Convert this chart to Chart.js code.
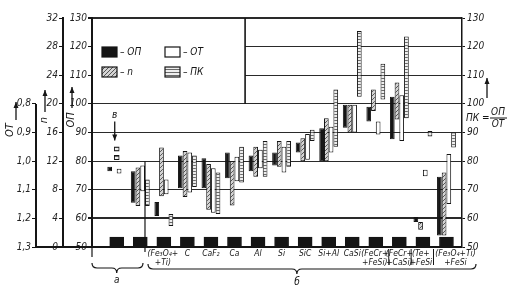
<!DOCTYPE html>
<html>
<head>
<meta charset="utf-8">
<script src="https://cdn.jsdelivr.net/npm/chart.js@4.4.1/dist/chart.umd.min.js"></script>
<style>
  html, body { margin: 0; padding: 0; background: #fff; }
</style>
</head>
<body>
<canvas id="chart" width="514" height="290"></canvas>
<script>
// categories along the bottom (two in group "а", the rest in group "б")
const categories = ['а1', 'а2', '(Fe3O4+Ti)', 'C', 'CaF2', 'Ca', 'Al', 'Si', 'SiC', 'Si+Al', 'CaSi',
    '(FeCr+FeSi)', '(FeCr+CaSi)', '(Te+FeSi)', '(Fe3O4+Ti)+FeSi'];
const catLabels = [[], [], ['(Fe₃O₄+', '+Ti)'], ['C'], ['CaF₂'], ['Ca'], ['Al'], ['Si'], ['SiC'], ['Si+Al'],
    ['CaSi'], ['(FeCr+', '+FeSi)'], ['(FeCr+', '+CaSi)'], ['(Te+', '+FeSi'], ['(Fe₃O₄+Ti)', '+FeSi']];

// ranges on the ОП / ПК scale (50..130)
const opRange = [[76.5, 78], [65.5, 76.5], [60.8, 65.7], [70.5, 82], [70.5, 81], [74, 83], [76.5, 82],
    [78.5, 83], [83, 86.5], [80, 91.5], [91.7, 99.7], [93.8, 99], [87.6, 102.5], [58.7, 60.5], [54, 74.5]];
const nRange = [null, [64.3, 77.8], [67.7, 84.8], [67.5, 83.5], [63, 79], [64.5, 80], [74.5, 85],
    [78, 87], [80, 88], [80, 95], [90, 99.7], [97.5, 105], [94.5, 107.5], [56, 58.7], [54, 76]];
const otRange = [[75.7, 77.3], [69.5, 78.5], [68.4, 73.6], [69, 83], [62, 77.5], [73, 81.5], [77.5, 84],
    [76, 85], [80.5, 89.5], [83, 92], [90, 99.7], [89.3, 93.8], [87, 103], [74.7, 77], [65, 82.5]];
const pkRange = [null, [64.3, 73.6], [57.3, 61.5], [71, 82], [61.5, 76], [72.5, 85], [74.5, 87],
    [78, 87], [87, 91], [85, 105], [102.5, 125.5], [101.5, 114], [95, 123.5], [88.6, 90.5], [84.8, 90]];
// single ПК points of the first column
const pkMarkCat = [0, 0];
const pkMarkRange = [[80.5, 82], [83.5, 85]];
// black blocks on the base line
const baseRange = [[50, 53.5], [50, 53.5], [50, 53.5], [50, 53.5], [50, 53.5], [50, 53.5], [50, 53.5],
    [50, 53.5], [50, 53.5], [50, 53.5], [50, 53.5], [50, 53.5], [50, 53.5], [50, 53.5], [50, 53.5]];

// tick values of the four vertical scales
const opTicks = [50, 60, 70, 80, 90, 100, 110, 120, 130];
const nTicks = [0, 4, 8, 12, 16, 20, 24, 28, 32];
const otTicks = [1.3, 1.2, 1.1, 1.0, 0.9, 0.8];

const FONT = "'DejaVu Sans Condensed', 'Liberation Sans Narrow', sans-serif";
const NARROW = "'Liberation Sans Narrow', 'DejaVu Sans Condensed', sans-serif";
const INK = '#151515';

function makePattern(w, h, draw) {
    const c = document.createElement('canvas');
    c.width = w; c.height = h;
    const g = c.getContext('2d');
    draw(g, w, h);
    return g.createPattern(c, 'repeat');
}
const hatch = makePattern(4, 4, (g, w, h) => {
    g.fillStyle = '#d4d4d4'; g.fillRect(0, 0, w, h);
    g.strokeStyle = '#555'; g.lineWidth = 1;
    g.beginPath(); g.moveTo(0, h); g.lineTo(w, 0); g.stroke();
});
const dots = makePattern(3, 3, (g, w, h) => {
    g.fillStyle = '#eeeeee'; g.fillRect(0, 0, w, h);
    g.fillStyle = '#6a6a6a'; g.fillRect(0, 0, w, 1);
});

const pts = arr => arr.map((r, i) => r ? { x: i, y: r } : null).filter(Boolean);

function arrow(ctx, x, y1, y2) {
    ctx.beginPath(); ctx.moveTo(x, y1); ctx.lineTo(x, y2); ctx.stroke();
    const d = y2 < y1 ? 1 : -1;
    ctx.beginPath();
    ctx.moveTo(x, y2); ctx.lineTo(x - 2.5, y2 + 6 * d); ctx.lineTo(x + 2.5, y2 + 6 * d);
    ctx.closePath(); ctx.fill();
}
function vtext(ctx, s, x, y) {
    ctx.save(); ctx.translate(x, y); ctx.rotate(-Math.PI / 2);
    ctx.textAlign = 'center'; ctx.textBaseline = 'middle';
    ctx.fillText(s, 0, 0); ctx.restore();
}
function brace(ctx, x1, x2, cx, y) {
    ctx.beginPath();
    ctx.moveTo(x1, y - 5);
    ctx.quadraticCurveTo(x1, y, x1 + 5, y);
    ctx.lineTo(cx - 5, y);
    ctx.quadraticCurveTo(cx, y, cx, y + 5);
    ctx.quadraticCurveTo(cx, y, cx + 5, y);
    ctx.lineTo(x2 - 5, y);
    ctx.quadraticCurveTo(x2, y, x2, y - 5);
    ctx.stroke();
}

const decor = {
    id: 'decor',
    beforeDatasetsDraw(chart) {
        const { ctx, chartArea: a, scales: { x, yOP } } = chart;
        const boxR = x.getPixelForValue(5.45), boxB = yOP.getPixelForValue(100);
        ctx.save();
        ctx.fillStyle = '#fff';
        ctx.fillRect(a.left + 1, a.top + 1.5, boxR - a.left - 1, boxB - a.top - 2.5);
        ctx.strokeStyle = INK; ctx.lineWidth = 1.6;
        ctx.beginPath(); ctx.moveTo(boxR, a.top); ctx.lineTo(boxR, boxB); ctx.stroke();
        ctx.restore();
    },
    afterDraw(chart) {
        const { ctx, chartArea: a, scales: { x, yOP, yOT } } = chart;
        ctx.save();
        ctx.strokeStyle = INK; ctx.fillStyle = INK;

        // ОТ axis line (only 0,8..1,3) and the base line running under all axes
        ctx.lineWidth = 2;
        ctx.beginPath();
        ctx.moveTo(yOT.right, yOT.getPixelForValue(0.8));
        ctx.lineTo(yOT.right, a.bottom);
        ctx.lineTo(a.right, a.bottom);
        ctx.stroke();

        // legend
        const items = [['ОП', INK, 0, 0], ['n', hatch, 0, 1], ['ОТ', '#fff', 1, 0], ['ПК', dots, 1, 1]];
        ctx.font = 'italic 10px ' + FONT; ctx.textBaseline = 'middle'; ctx.textAlign = 'left';
        items.forEach(([t, fill, col, row]) => {
            const lx = a.left + 10 + col * 63, ly = a.top + 29 + row * 20;
            ctx.fillStyle = fill; ctx.fillRect(lx, ly, 15, 10);
            ctx.lineWidth = 1.2; ctx.strokeStyle = INK; ctx.strokeRect(lx, ly, 15, 10);
            ctx.fillStyle = INK; ctx.fillText('– ' + t, lx + 18, ly + 5.5);
        });

        // axis titles on the left
        ctx.lineWidth = 1.3;
        ctx.font = 'italic 11px ' + FONT;
        vtext(ctx, 'ОТ', 10, 130); arrow(ctx, 16, 120, 102);
        vtext(ctx, 'n', 44, 120); arrow(ctx, 45, 112, 90);
        vtext(ctx, 'ОП', 71, 120); arrow(ctx, 72, 108, 87);

        // right axis title ПК = ОП/ОТ
        arrow(ctx, 487, 98, 78);
        ctx.font = 'italic 10px ' + FONT; ctx.textAlign = 'left'; ctx.textBaseline = 'middle';
        ctx.fillText('ПК =', 466, 118);
        ctx.textAlign = 'center';
        ctx.fillText('ОП', 498, 112); ctx.fillText('ОТ', 498, 124);
        ctx.lineWidth = 1;
        ctx.beginPath(); ctx.moveTo(490, 118); ctx.lineTo(507, 118); ctx.stroke();

        // marker "в" above the first column
        const cx0 = x.getPixelForValue(0) - 2;
        ctx.font = 'italic 10px ' + FONT;
        ctx.fillText('в', cx0, yOP.getPixelForValue(96));
        ctx.lineWidth = 1.3;
        arrow(ctx, cx0, yOP.getPixelForValue(93.8), yOP.getPixelForValue(87.2));

        // separator between groups а and б
        const sep = x.getPixelForValue(1.2);
        ctx.lineWidth = 1.2;
        ctx.beginPath(); ctx.moveTo(sep, yOP.getPixelForValue(80)); ctx.lineTo(sep, a.bottom + 5); ctx.stroke();
        ctx.beginPath(); ctx.moveTo(a.left, a.bottom); ctx.lineTo(a.left, a.bottom + 10); ctx.stroke();

        // category labels
        ctx.font = 'italic 8.5px ' + NARROW; ctx.textAlign = 'center'; ctx.textBaseline = 'middle';
        const shift = [0, 0, -1, 0, 0, 0, 0, 0, 0, 0, 0, -1, 0, -2, 9];
        catLabels.forEach((lines, i) => {
            const cx = x.getPixelForValue(i) + shift[i];
            lines.forEach((t, k) => ctx.fillText(t, cx, a.bottom + 7 + k * 9));
        });
        ctx.lineWidth = 1;
        [11.55, 12.5, 13.45].forEach(v => {
            const px = x.getPixelForValue(v);
            ctx.beginPath(); ctx.moveTo(px, a.bottom + 2); ctx.lineTo(px, a.bottom + 18); ctx.stroke();
        });

        // braces а and б
        ctx.lineWidth = 1.2;
        brace(ctx, a.left, sep - 2, x.getPixelForValue(0), a.bottom + 21);
        brace(ctx, sep + 3, a.right + 14, x.getPixelForValue(7.65), a.bottom + 22);
        ctx.font = 'italic 10px ' + FONT;
        ctx.fillText('а', x.getPixelForValue(0), a.bottom + 33);
        ctx.fillText('б', x.getPixelForValue(7.65), a.bottom + 35);
        ctx.restore();
    }
};

const barBase = { borderColor: INK, borderWidth: 1, borderSkipped: false, yAxisID: 'yOP' };
const tickFont = { family: FONT, size: 10, style: 'italic' };

new Chart(document.getElementById('chart'), {
    type: 'bar',
    data: {
        datasets: [
            { ...barBase, label: 'ОП', data: pts(opRange), backgroundColor: INK },
            { ...barBase, label: 'n', data: pts(nRange), backgroundColor: hatch },
            { ...barBase, label: 'ОТ', data: pts(otRange), backgroundColor: '#fff' },
            { ...barBase, label: 'ПК', data: pts(pkRange), backgroundColor: dots },
            { ...barBase, label: 'ПК points', data: pkMarkCat.map((c, k) => ({ x: c, y: pkMarkRange[k] })),
                backgroundColor: dots, grouped: false, barThickness: 5 },
            { ...barBase, label: 'base', data: pts(baseRange), backgroundColor: INK,
                grouped: false, barThickness: 14 }
        ]
    },
    options: {
        responsive: false,
        animation: false,
        devicePixelRatio: 1,
        layout: { padding: { top: 18, bottom: 43, left: 0, right: 0 } },
        categoryPercentage: 0.8,
        barPercentage: 1,
        plugins: { legend: { display: false }, tooltip: { enabled: false } },
        scales: {
            x: { type: 'linear', min: -1.05, max: 14.66, offset: false, display: false },
            yOP: {
                position: 'left', weight: 0, min: 50, max: 130,
                afterBuildTicks: s => { s.ticks = opTicks.map(v => ({ value: v })); },
                afterFit: s => { s.width = 29; },
                ticks: { font: tickFont, color: '#222', padding: 1, autoSkip: false },
                grid: {
                    color: '#2a2a2a', tickLength: 4, tickColor: INK,
                    lineWidth: c => (c.tick && (c.tick.value === 60 || c.tick.value === 50 || c.tick.value === 130)) ? 2 : 1
                },
                border: { color: INK, width: 2 }
            },
            yN: {
                position: 'left', weight: 1, min: 0, max: 32,
                afterBuildTicks: s => { s.ticks = nTicks.map(v => ({ value: v })); },
                afterFit: s => { s.width = 27; },
                ticks: { font: tickFont, color: '#222', padding: 1, autoSkip: false },
                grid: { drawOnChartArea: false, tickLength: 4, tickColor: INK },
                border: { color: INK, width: 2 }
            },
            yOT: {
                position: 'left', weight: 2, min: 0.5, max: 1.3, reverse: true,
                afterBuildTicks: s => { s.ticks = otTicks.map(v => ({ value: v })); },
                afterFit: s => { s.width = 36; },
                ticks: { font: tickFont, color: '#222', padding: 1, autoSkip: false,
                    callback: v => v.toFixed(1).replace('.', ',') },
                grid: { drawOnChartArea: false, tickLength: 4, tickColor: INK },
                border: { display: false }
            },
            yR: {
                position: 'right', min: 50, max: 130,
                afterBuildTicks: s => { s.ticks = opTicks.map(v => ({ value: v })); },
                afterFit: s => { s.width = 52; },
                ticks: { font: tickFont, color: '#222', padding: 2, autoSkip: false },
                grid: { drawOnChartArea: false, tickLength: 3, tickColor: INK },
                border: { color: INK, width: 1.5 }
            }
        }
    },
    plugins: [decor]
});
</script>
</body>
</html>
